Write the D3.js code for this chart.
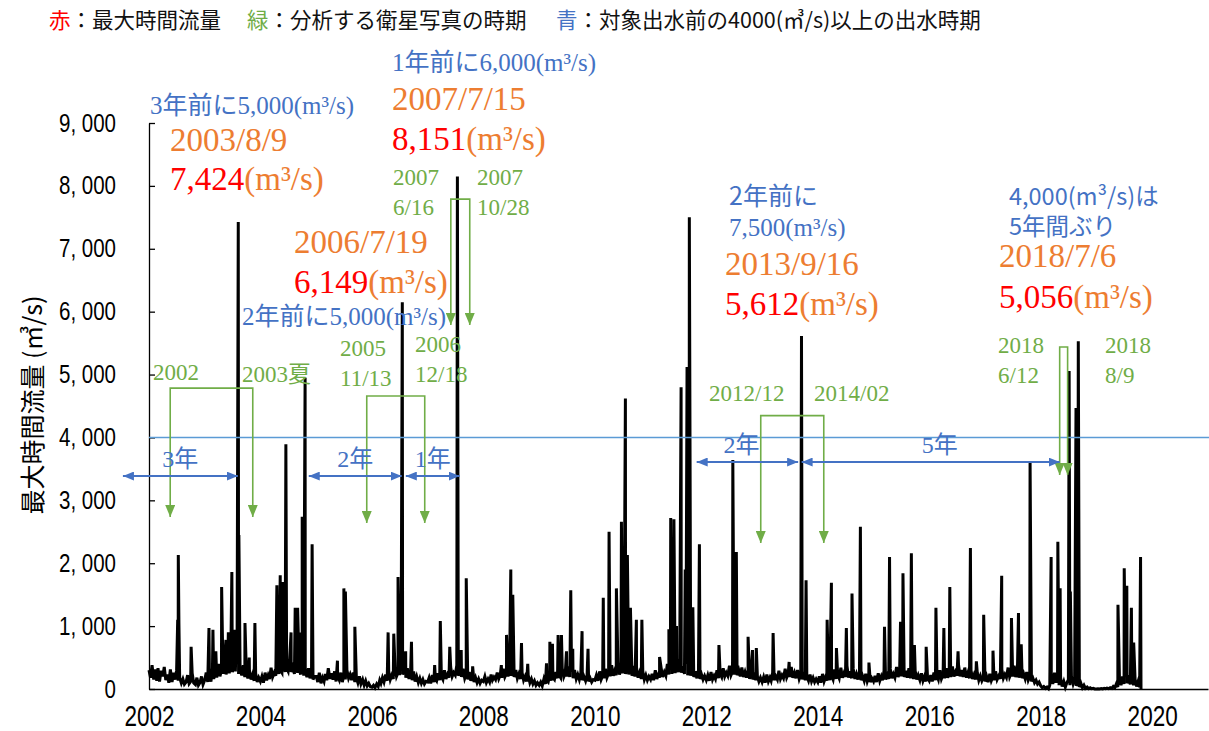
<!DOCTYPE html>
<html>
<head>
<meta charset="utf-8">
<script src="https://cdn.jsdelivr.net/npm/d3@7"></script>
<style>
  body { margin: 0; background: #fff; }
  svg { display: block; }
</style>
</head>
<body>
<div id="chart"></div>
<script>
// base flow (m3/s), one value per 10-day period (1st, 11th, 21st of each month)
const baseYears = [2002, 2003, 2004, 2005, 2006, 2007, 2008, 2009, 2010, 2011, 2012, 2013, 2014, 2015, 2016, 2017, 2018, 2019];
const baseFlow = [
  [300,180,380,150,310,130,330,120,290,200,350,140,230,100,310,110,260,150,300,130,180,95,160,75,110,220,85,120,250,95,70,180,60,100,200,70],
  [140,260,110,200,120,330,160,250,180,400,200,300,240,450,230,380,250,500,270,350,280,420,240,300,220,380,190,260,170,300,150,230,130,250,110,180],
  [120,200,100,260,140,220,160,340,190,260,210,400,240,300,260,450,270,330,280,480,270,350,240,410,260,320,230,400,210,280,190,330,170,240,150,200],
  [200,110,260,90,180,120,240,140,330,160,250,150,280,120,200,140,260,110,220,150,300,170,230,140,260,110,180,100,200,80,150,60,130,50,90,40],
  [30,60,20,80,40,140,90,180,110,230,130,280,150,220,160,350,200,260,220,400,230,300,180,330,160,250,140,280,120,200,100,170,90,150,80,120],
  [110,180,90,220,110,160,130,250,140,200,150,300,160,230,180,350,200,260,220,380,210,280,190,320,170,240,150,270,130,200,110,180,100,160,90,140],
  [120,200,100,160,110,230,140,190,150,260,160,220,180,320,190,250,200,360,210,270,190,300,170,240,160,260,140,200,120,220,100,160,80,130,60,100],
  [60,110,50,160,80,130,110,220,130,180,150,270,170,220,180,330,190,250,200,360,190,270,170,300,160,230,150,260,140,200,130,220,120,170,110,150],
  [140,220,130,280,150,210,170,320,180,250,200,380,210,290,220,420,230,310,250,450,240,330,230,380,210,290,200,340,180,260,160,280,150,220,140,200],
  [150,240,140,300,160,230,180,340,190,270,210,400,230,310,240,450,250,340,270,480,260,360,240,400,220,310,210,360,190,280,170,300,160,230,150,210],
  [140,220,130,270,150,210,160,300,170,240,190,330,200,260,210,370,220,280,230,400,220,300,200,340,190,270,180,300,160,240,150,260,140,200,120,180],
  [110,190,100,230,120,180,130,260,140,200,150,290,160,220,170,320,180,240,190,350,180,260,170,300,160,230,150,270,140,200,130,230,120,180,110,160],
  [110,200,100,240,120,190,130,280,140,210,150,310,160,230,170,340,180,250,190,370,180,280,170,320,160,240,150,280,140,210,130,240,120,190,110,170],
  [120,210,110,250,130,200,140,290,150,220,160,320,170,240,180,350,190,260,200,380,190,290,180,330,170,250,160,290,150,220,140,250,130,200,120,180],
  [130,220,120,260,140,210,150,300,160,230,170,330,180,250,190,360,200,270,210,390,200,300,190,340,180,260,170,300,160,230,150,260,140,210,130,190],
  [120,200,110,240,130,190,140,280,150,210,160,310,170,230,180,340,190,250,200,370,190,280,180,320,170,240,160,270,140,200,120,170,100,140,80,110],
  [50,20,40,10,30,5,60,200,80,260,100,220,60,180,40,120,30,100,150,60,200,80,160,50,120,30,90,20,60,10,30,5,20,5,10,0],
  [0,5,0,8,0,10,5,15,5,20,10,40,20,80,30,150,60,200,80,250,90,220,70,200,60,160,40,120,30]
];

// flood spikes and shoulders: [date, value]
const floodPeaks = [
  ["2002-07-08",1100],["2002-07-12",2130],["2002-07-16",1050],["2002-10-04",670],
  ["2003-01-29",970],["2003-02-24",940],["2003-03-15",600],["2003-04-22",1620],["2003-05-20",780],["2003-06-05",900],
  ["2003-06-28",1860],["2003-07-14",940],["2003-07-25",700],["2003-08-09",7424],["2003-08-13",2450],["2003-09-22",1050],
  ["2003-10-20",500],["2003-11-26",1050],
  ["2004-04-18",1650],["2004-05-10",1810],["2004-05-25",1700],["2004-06-16",3890],["2004-07-20",900],["2004-08-16",1290],
  ["2004-09-01",1290],["2004-09-22",900],["2004-10-01",2740],["2004-10-20",4950],["2004-12-05",2300],
  ["2005-05-20",450],["2005-07-01",1600],["2005-07-11",1550],["2005-09-11",990],
  ["2006-04-17",900],["2006-05-24",880],["2006-06-21",1780],["2006-07-02",700],["2006-07-19",6149],["2006-08-10",600],
  ["2006-09-17",750],
  ["2007-02-16",380],["2007-03-25",1080],["2007-05-26",670],["2007-07-15",8151],["2007-08-09",620],["2007-09-11",1760],
  ["2007-10-23",360],
  ["2008-04-28",380],["2008-06-01",860],["2008-06-29",1900],["2008-07-12",1500],["2008-09-07",730],["2008-10-18",400],
  ["2009-02-18",410],["2009-03-12",750],["2009-03-29",720],["2009-05-05",860],["2009-05-27",860],["2009-06-29",600],
  ["2009-07-27",1570],["2009-08-09",640],["2009-10-09",920],["2009-11-17",640],
  ["2010-02-25",1450],["2010-04-04",2500],["2010-05-22",1600],["2010-06-24",2660],["2010-07-20",4620],["2010-08-02",2130],
  ["2010-08-22",1290],["2010-09-30",1100],["2010-11-05",1100],
  ["2011-03-01",510],["2011-05-01",950],["2011-05-13",2720],["2011-06-03",2700],["2011-06-20",1000],["2011-07-20",4800],
  ["2011-08-16",1900],["2011-08-28",5120],["2011-09-12",7500],["2011-10-05",1300],["2011-11-17",2300],
  ["2012-03-24",700],["2012-06-23",3640],["2012-07-16",2180],["2012-10-01",830],["2012-10-30",620],["2012-11-24",650],
  ["2013-03-14",890],["2013-06-27",430],["2013-09-16",5612],["2013-10-16",1730],
  ["2014-03-03",1100],["2014-03-31",1690],["2014-05-03",650],["2014-07-07",970],["2014-08-13",1520],["2014-10-07",2580],
  ["2014-12-02",420],
  ["2015-03-14",990],["2015-04-16",2100],["2015-06-27",1070],["2015-07-13",1840],["2015-09-06",2160],["2015-09-26",700],
  ["2015-12-12",670],
  ["2016-02-14",1290],["2016-04-06",970],["2016-05-15",1620],["2016-07-08",600],["2016-09-27",2240],["2016-11-05",440],
  ["2016-12-23",1180],
  ["2017-02-22",610],["2017-04-20",1800],["2017-06-23",1130],["2017-08-08",1210],["2017-08-26",710],["2017-10-23",3620],
  ["2018-03-10",2100],["2018-04-23",2340],["2018-05-08",1600],["2018-07-06",5056],["2018-07-14",1550],["2018-08-20",4470],
  ["2018-09-04",5530],
  ["2019-05-22",1340],["2019-07-02",1920],["2019-07-19",1640],["2019-08-18",1290],["2019-09-02",740],["2019-10-17",2100],
  ["2019-10-20",0]
];

const yTicks = [0, 1000, 2000, 3000, 4000, 5000, 6000, 7000, 8000, 9000];
const xTickYears = [2002, 2004, 2006, 2008, 2010, 2012, 2014, 2016, 2018, 2020];
const threshold = 4000;

// green brackets: satellite image dates (from, to, bracket top value, arrow tip value)
const satBrackets = [
  ["2002-05-20", "2003-11-12", 4785, 2735],
  ["2005-11-28", "2006-12-13", 4658, 2639],
  ["2007-06-02", "2007-10-04", 7790, 5787],
  ["2012-12-23", "2014-02-09", 4347, 2321],
  ["2018-05-05", "2018-06-26", 5437, 3402]
];

// blue double arrows: gap between floods over 4000 m3/s
const gapArrows = [
  ["2001-07-14", "2003-08-06", 3386, "3年", 0],
  ["2004-11-13", "2006-07-15", 3386, "2年", 0],
  ["2006-08-11", "2007-07-30", 3386, "1年", 0],
  ["2011-10-30", "2013-08-25", 3609, "2年", -6],
  ["2013-09-17", "2018-05-05", 3609, "5年", 9]
];

const RED = "#FF0000", ORANGE = "#ED7D31", GREEN = "#70AD47", BLUE = "#4472C4", HLINE = "#5B9BD5";
const SERIF = "'Liberation Serif','Times New Roman','Noto Sans CJK JP',serif";
const GOTHIC = "'Noto Sans CJK JP','Noto Sans',sans-serif";

const legendItems = [
  { x: 49, key: "赤", color: RED, text: "：最大時間流量" },
  { x: 247, key: "緑", color: GREEN, text: "：分析する衛星写真の時期" },
  { x: 556, key: "青", color: BLUE, text: "：対象出水前の4000(㎥/s)以上の出水時期" }
];

// text annotations: x, baseline y, size, font, lines of [text, colour] parts
const notes = [
  [150, 114, 25, SERIF, [[["3年前に5,000(m³/s)", BLUE]]]],
  [170, 151, 33, SERIF, [[["2003/8/9", ORANGE]]]],
  [170, 190, 33, SERIF, [[["7,424", RED], ["(m³/s)", ORANGE]]]],
  [392, 71, 25, SERIF, [[["1年前に6,000(m³/s)", BLUE]]]],
  [392, 110, 33, SERIF, [[["2007/7/15", ORANGE]]]],
  [392, 150, 33, SERIF, [[["8,151", RED], ["(m³/s)", ORANGE]]]],
  [294, 253, 33, SERIF, [[["2006/7/19", ORANGE]]]],
  [294, 293, 33, SERIF, [[["6,149", RED], ["(m³/s)", ORANGE]]]],
  [242, 325, 25, SERIF, [[["2年前に5,000(m³/s)", BLUE]]]],
  [729, 205, 25, GOTHIC, [[["2年前に", BLUE]]]],
  [729, 236, 25, SERIF, [[["7,500(m³/s)", BLUE]]]],
  [725, 275, 33, SERIF, [[["2013/9/16", ORANGE]]]],
  [725, 315, 33, SERIF, [[["5,612", RED], ["(m³/s)", ORANGE]]]],
  [1009, 205, 23.5, GOTHIC, [[["4,000(m³/s)は", BLUE]], [["5年間ぶり", BLUE]]]],
  [999, 267, 33, SERIF, [[["2018/7/6", ORANGE]]]],
  [999, 308, 33, SERIF, [[["5,056", RED], ["(m³/s)", ORANGE]]]],
  [393, 185, 23, SERIF, [[["2007", GREEN]], [["6/16", GREEN]]]],
  [477, 185, 23, SERIF, [[["2007", GREEN]], [["10/28", GREEN]]]],
  [340, 356, 23, SERIF, [[["2005", GREEN]], [["11/13", GREEN]]]],
  [415, 352, 23, SERIF, [[["2006", GREEN]], [["12/18", GREEN]]]],
  [153, 380, 23, SERIF, [[["2002", GREEN]]]],
  [242, 382, 23, SERIF, [[["2003夏", GREEN]]]],
  [709, 401, 23, SERIF, [[["2012/12", GREEN]]]],
  [814, 401, 23, SERIF, [[["2014/02", GREEN]]]],
  [998, 353, 23, SERIF, [[["2018", GREEN]], [["6/12", GREEN]]]],
  [1105, 353, 23, SERIF, [[["2018", GREEN]], [["8/9", GREEN]]]]
];

const W = 1209, H = 731;
const parse = d3.timeParse("%Y-%m-%d");

// merge base flow and flood spikes into one dated series
const data = [];
baseYears.forEach((yr, k) => {
  baseFlow[k].forEach((v, i) => {
    data.push({ date: new Date(yr, Math.floor(i / 3), 1 + 10 * (i % 3)), value: v });
  });
});
floodPeaks.forEach(d => data.push({ date: parse(d[0]), value: d[1] }));
data.sort((a, b) => a.date - b.date);

const svg = d3.select("#chart").append("svg").attr("width", W).attr("height", H);

const x = d3.scaleTime().domain([new Date(2002, 0, 1), new Date(2021, 0, 1)]).range([149, 1208]);
const y = d3.scaleLinear().domain([0, 9000]).range([689, 123]);

// arrow heads
const defs = svg.append("defs");
function head(id, color, w, h) {
  defs.append("marker").attr("id", id)
    .attr("viewBox", `0 0 ${w} ${h}`).attr("refX", w).attr("refY", h / 2)
    .attr("markerWidth", w).attr("markerHeight", h)
    .attr("markerUnits", "userSpaceOnUse").attr("orient", "auto-start-reverse")
    .append("path").attr("d", `M0,0L${w},${h / 2}L0,${h}Z`).attr("fill", color);
}
head("headG", GREEN, 12, 10);
head("headB", BLUE, 11, 9);

// flow line
const line = d3.line().x(d => x(d.date)).y(d => y(d.value));
svg.append("path").datum(data)
  .attr("d", line).attr("fill", "none").attr("stroke", "#000")
  .attr("stroke-width", 3).attr("stroke-linejoin", "miter");

// axes
const xAxis = svg.append("g").attr("transform", "translate(0,689)")
  .call(d3.axisBottom(x)
    .tickValues(xTickYears.map(yr => new Date(yr, 0, 1)))
    .tickFormat(d3.timeFormat("%Y"))
    .tickSize(0).tickPadding(16));
xAxis.select(".domain").attr("stroke", "#000").attr("stroke-width", 1.3);
xAxis.selectAll("text").attr("font-size", 30).attr("font-family", "'Liberation Sans',Arial,sans-serif").attr("fill", "#000")
  .each(function() { const w = this.getComputedTextLength(); d3.select(this).attr("textLength", w * 0.75).attr("lengthAdjust", "spacingAndGlyphs"); });

const yAxis = svg.append("g").attr("transform", "translate(149,0)")
  .call(d3.axisLeft(y)
    .tickValues(yTicks)
    .tickFormat(d => d3.format(",")(d).replace(",", ", "))
    .tickSizeInner(-6).tickSizeOuter(0).tickPadding(33));
yAxis.select(".domain").attr("stroke", "#000").attr("stroke-width", 1.3);
yAxis.selectAll(".tick line").attr("stroke", "#000").attr("stroke-width", 1.3);
yAxis.selectAll("text").attr("font-size", 25).attr("font-family", "'Liberation Sans',Arial,sans-serif").attr("fill", "#000")
  .each(function() { const w = this.getComputedTextLength(); d3.select(this).attr("textLength", w * 0.82).attr("lengthAdjust", "spacingAndGlyphs"); });

svg.append("text")
  .attr("transform", "translate(31,405) rotate(-90)")
  .attr("text-anchor", "middle").attr("dominant-baseline", "central")
  .attr("font-size", 25).attr("font-family", GOTHIC).attr("fill", "#000")
  .text("最大時間流量 (㎥/s)");

// 4000 m3/s line
svg.append("line")
  .attr("x1", x.range()[0]).attr("x2", W)
  .attr("y1", y(threshold)).attr("y2", y(threshold))
  .attr("stroke", HLINE).attr("stroke-width", 1.6);

// green brackets
satBrackets.forEach(([a, b, top, tip]) => {
  const x1 = x(parse(a)), x2 = x(parse(b));
  svg.append("path")
    .attr("d", `M${x1},${y(tip)}V${y(top)}H${x2}V${y(tip)}`)
    .attr("fill", "none").attr("stroke", GREEN).attr("stroke-width", 1.6)
    .attr("marker-start", "url(#headG)").attr("marker-end", "url(#headG)");
});

// blue gap arrows
gapArrows.forEach(([a, b, v, label, dx]) => {
  const x1 = x(parse(a)), x2 = x(parse(b));
  svg.append("path")
    .attr("d", `M${x1},${y(v)}H${x2}`)
    .attr("stroke", BLUE).attr("stroke-width", 2)
    .attr("marker-start", "url(#headB)").attr("marker-end", "url(#headB)");
  svg.append("text")
    .attr("x", (x1 + x2) / 2 + dx).attr("y", y(v) - 9)
    .attr("text-anchor", "middle").attr("font-size", 24).attr("font-family", SERIF)
    .attr("fill", BLUE).text(label);
});

// annotations (multi-line ones step down 30px per line)
notes.forEach(([nx, ny, size, font, lines]) => {
  const t = svg.append("text").attr("x", nx).attr("y", ny)
    .attr("font-size", size).attr("font-family", font);
  lines.forEach((parts, li) => {
    parts.forEach(([s, c], pi) => {
      const ts = t.append("tspan").attr("fill", c).text(s);
      if (li > 0 && pi === 0) ts.attr("x", nx).attr("dy", 30);
    });
  });
});

// legend
legendItems.forEach(item => {
  const t = svg.append("text").attr("x", item.x).attr("y", 28)
    .attr("font-size", 21.5).attr("font-family", GOTHIC);
  t.append("tspan").attr("fill", item.color).text(item.key);
  t.append("tspan").attr("fill", "#111").text(item.text);
});
</script>
</body>
</html>
